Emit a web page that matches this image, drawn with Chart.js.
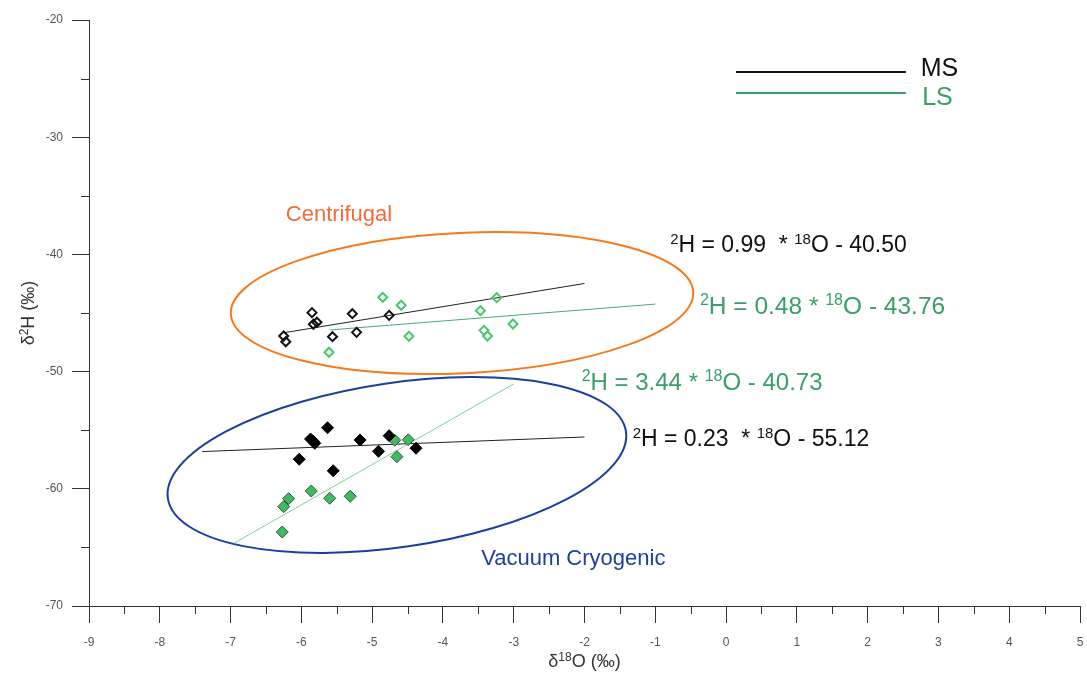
<!DOCTYPE html>
<html>
<head>
<meta charset="utf-8">
<script src="https://cdn.jsdelivr.net/npm/chart.js@4.4.1/dist/chart.umd.min.js"></script>
<style>
html, body { margin: 0; padding: 0; background: #fff; }
</style>
</head>
<body>
<canvas id="isoChart" width="1087" height="673"></canvas>
<script>
// Centrifugal extraction - open diamonds
const cenMsX = [-6.25, -6.22, -5.85, -5.83, -5.78, -5.56, -5.28, -5.22, -4.76];
const cenMsY = [-46.96, -47.45, -44.97, -45.96, -45.79, -47.02, -45.06, -46.65, -45.20];
const cenLsX = [-4.85, -4.59, -5.61, -4.48, -3.47, -3.24, -3.42, -3.37, -3.01];
const cenLsY = [-43.66, -44.34, -48.35, -46.99, -44.80, -43.69, -46.48, -46.96, -45.94];
// Vacuum cryogenic extraction - filled diamonds
const vacMsX = [-5.63, -5.87, -5.83, -5.81, -6.03, -5.55, -5.17, -4.76, -4.91, -4.38];
const vacMsY = [-54.79, -55.75, -55.95, -56.12, -57.48, -58.46, -55.84, -55.47, -56.80, -56.54];
const vacLsX = [-4.68, -4.49, -4.65, -5.86, -6.18, -6.25, -5.60, -5.31, -6.27];
const vacLsY = [-55.86, -55.81, -57.26, -60.19, -60.84, -61.53, -60.81, -60.64, -63.69];

// regression lines (slope, intercept, x range)
const fitSlope = [0.99, 0.48, 3.44, 0.23];
const fitIntercept = [-40.50, -43.76, -40.73, -55.12];
const fitFrom = [-6.25, -5.6, -6.95, -7.4];
const fitTo = [-2, -1, -3, -2];

// axis ticks
const xTicks = [-9, -8, -7, -6, -5, -4, -3, -2, -1, 0, 1, 2, 3, 4, 5];
const yTicks = [-70, -60, -50, -40, -30, -20];

const FONT = '"Liberation Sans", Arial, sans-serif';
const BLACK = '#111111';
const GREEN_TXT = '#3a9e68';
const GREEN_PT = '#45c86e';
const GREEN_FILL = '#3dba62';

function pts(xs, ys) {
    return xs.map((x, i) => ({ x: x, y: ys[i] }));
}
function fitLine(i) {
    return [
        { x: fitFrom[i], y: fitSlope[i] * fitFrom[i] + fitIntercept[i] },
        { x: fitTo[i], y: fitSlope[i] * fitTo[i] + fitIntercept[i] }
    ];
}

// draws text with superscripts, '^' marks a raised part
function drawRich(ctx, parts, x, y, size, color) {
    ctx.save();
    ctx.fillStyle = color;
    ctx.textAlign = 'left';
    ctx.textBaseline = 'alphabetic';
    let cx = x;
    parts.forEach(p => {
        const sup = p[0] === '^';
        const t = sup ? p.slice(1) : p;
        const fs = sup ? Math.round(size * 0.65) : size;
        ctx.font = fs + 'px ' + FONT;
        ctx.fillText(t, cx, sup ? y - size * 0.36 : y);
        cx += ctx.measureText(t).width;
    });
    ctx.restore();
    return cx - x;
}
function richWidth(ctx, parts, size) {
    let w = 0;
    ctx.save();
    parts.forEach(p => {
        const sup = p[0] === '^';
        const t = sup ? p.slice(1) : p;
        ctx.font = (sup ? Math.round(size * 0.65) : size) + 'px ' + FONT;
        w += ctx.measureText(t).width;
    });
    ctx.restore();
    return w;
}

// annotations in data units
const ellipses = [
    { cx: -3.73, cy: -44.15, a: 3.27, b: 5.99, angle: -2.7, color: '#f57a1c' },
    { cx: -4.65, cy: -57.97, a: 3.27, b: 7.01, angle: -8.3, color: '#1b3fa0' }
];
const labels = [
    { parts: ['Centrifugal'], x: -6.22, y: -37.15, size: 22, color: '#f26b36' },
    { parts: ['Vacuum Cryogenic'], x: -3.46, y: -66.5, size: 22, color: '#1f40a0' },
    { parts: ['^2', 'H = 0.99  * ', '^18', 'O - 40.50'], x: -0.79, y: -39.8, size: 23, color: BLACK },
    { parts: ['^2', 'H = 0.48 * ', '^18', 'O - 43.76'], x: -0.37, y: -45.09, size: 24.5, color: GREEN_TXT },
    { parts: ['^2', 'H = 3.44 * ', '^18', 'O - 40.73'], x: -2.04, y: -51.57, size: 24, color: GREEN_TXT },
    { parts: ['^2', 'H = 0.23  * ', '^18', 'O - 55.12'], x: -1.32, y: -56.35, size: 23, color: BLACK },
    { parts: ['MS'], x: 2.75, y: -24.78, size: 25, color: BLACK },
    { parts: ['LS'], x: 2.77, y: -27.25, size: 25, color: GREEN_TXT }
];
const legendLines = [
    { x0: 0.14, x1: 2.54, y: -24.44, color: BLACK },
    { x0: 0.14, x1: 2.54, y: -26.23, color: GREEN_TXT }
];

const extras = {
    id: 'extras',
    beforeDatasetsDraw(chart) {
        const ctx = chart.ctx, xs = chart.scales.x, ys = chart.scales.y;
        ctx.save();
        ellipses.forEach(e => {
            const px = xs.getPixelForValue(e.cx), py = ys.getPixelForValue(e.cy);
            const ra = Math.abs(xs.getPixelForValue(e.cx + e.a) - px);
            const rb = Math.abs(ys.getPixelForValue(e.cy + e.b) - py);
            ctx.beginPath();
            ctx.ellipse(px, py, ra, rb, e.angle * Math.PI / 180, 0, Math.PI * 2);
            ctx.strokeStyle = e.color;
            ctx.lineWidth = 2;
            ctx.stroke();
        });
        ctx.restore();
    },
    afterDraw(chart) {
        const ctx = chart.ctx, xs = chart.scales.x, ys = chart.scales.y, area = chart.chartArea;
        ctx.save();
        // minor ticks
        ctx.strokeStyle = '#333';
        ctx.lineWidth = 1;
        ctx.beginPath();
        for (let i = 0; i < xTicks.length - 1; i++) {
            const p = Math.round(xs.getPixelForValue(xTicks[i] + 0.5)) + 0.5;
            ctx.moveTo(p, area.bottom);
            ctx.lineTo(p, area.bottom + 8);
        }
        for (let i = 0; i < yTicks.length - 1; i++) {
            const p = Math.round(ys.getPixelForValue(yTicks[i] + 5)) + 0.5;
            ctx.moveTo(area.left - 8, p);
            ctx.lineTo(area.left, p);
        }
        ctx.stroke();
        // legend lines
        legendLines.forEach(l => {
            ctx.beginPath();
            ctx.strokeStyle = l.color;
            ctx.lineWidth = 2;
            const py = ys.getPixelForValue(l.y);
            ctx.moveTo(xs.getPixelForValue(l.x0), py);
            ctx.lineTo(xs.getPixelForValue(l.x1), py);
            ctx.stroke();
        });
        ctx.restore();
        labels.forEach(l => drawRich(ctx, l.parts, xs.getPixelForValue(l.x), ys.getPixelForValue(l.y), l.size, l.color));
        // axis titles
        const xt = ['δ', '^18', 'O (‰)'];
        const xw = richWidth(ctx, xt, 18);
        drawRich(ctx, xt, (area.left + area.right) / 2 - xw / 2, 667, 18, '#333');
        const yt = ['δ', '^2', 'H (‰)'];
        const yw = richWidth(ctx, yt, 18);
        ctx.save();
        ctx.translate(34, (area.top + area.bottom) / 2);
        ctx.rotate(-Math.PI / 2);
        drawRich(ctx, yt, -yw / 2, 0, 18, '#333');
        ctx.restore();
    }
};

const config = {
    type: 'scatter',
    data: {
        datasets: [
            { label: 'MS centrifugal', data: pts(cenMsX, cenMsY), pointStyle: 'rectRot', pointRadius: 4.5,
              borderColor: BLACK, borderWidth: 2, backgroundColor: 'rgba(255,255,255,0)' },
            { label: 'LS centrifugal', data: pts(cenLsX, cenLsY), pointStyle: 'rectRot', pointRadius: 4.5,
              borderColor: GREEN_PT, borderWidth: 2, backgroundColor: 'rgba(255,255,255,0)' },
            { label: 'MS vacuum', data: pts(vacMsX, vacMsY), pointStyle: 'rectRot', pointRadius: 6,
              borderColor: '#000', borderWidth: 1, backgroundColor: '#000' },
            { label: 'LS vacuum', data: pts(vacLsX, vacLsY), pointStyle: 'rectRot', pointRadius: 6,
              borderColor: '#3b4f40', borderWidth: 1, backgroundColor: GREEN_FILL },
            { label: 'fit MS centrifugal', data: fitLine(0), showLine: true, pointRadius: 0, borderColor: '#222', borderWidth: 1 },
            { label: 'fit LS centrifugal', data: fitLine(1), showLine: true, pointRadius: 0, borderColor: '#4aa878', borderWidth: 1 },
            { label: 'fit LS vacuum', data: fitLine(2), showLine: true, pointRadius: 0, borderColor: '#7ccf9e', borderWidth: 1 },
            { label: 'fit MS vacuum', data: fitLine(3), showLine: true, pointRadius: 0, borderColor: '#222', borderWidth: 1 }
        ]
    },
    options: {
        responsive: false,
        animation: false,
        devicePixelRatio: 1,
        layout: { padding: { top: 20, right: 7, left: 0, bottom: 0 } },
        plugins: { legend: { display: false }, tooltip: { enabled: false } },
        scales: {
            x: {
                type: 'linear', min: -9, max: 5,
                afterBuildTicks: s => { s.ticks = xTicks.map(v => ({ value: v })); },
                ticks: { color: '#555', font: { size: 12, family: FONT }, padding: 12, maxRotation: 0, autoSkip: false },
                grid: { drawOnChartArea: false, drawTicks: true, tickLength: 17, color: '#333', lineWidth: 1 },
                border: { display: true, color: '#333', width: 1 },
                afterFit: s => { s.height = 67; s.paddingRight = 0; s.paddingLeft = 0; }
            },
            y: {
                type: 'linear', min: -70, max: -20,
                afterBuildTicks: s => { s.ticks = yTicks.map(v => ({ value: v })); },
                ticks: { color: '#555', font: { size: 12, family: FONT }, padding: 9, autoSkip: false },
                grid: { drawOnChartArea: false, drawTicks: true, tickLength: 17, color: '#333', lineWidth: 1 },
                border: { display: true, color: '#333', width: 1 },
                afterFit: s => { s.width = 89; s.paddingTop = 0; s.paddingBottom = 0; }
            }
        }
    },
    plugins: [extras]
};

new Chart(document.getElementById('isoChart'), config);
</script>
</body>
</html>
